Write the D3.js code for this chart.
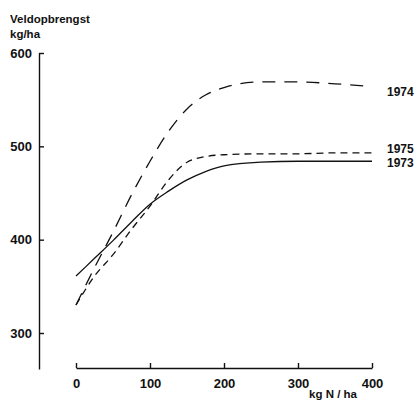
<!DOCTYPE html>
<html>
<head>
<meta charset="utf-8">
<script src="https://cdn.jsdelivr.net/npm/d3@7"></script>
<style>
  body { margin: 0; background: #fff; }
  text { font-family: "Liberation Sans", Arial, sans-serif; font-weight: bold; fill: #111; }
</style>
</head>
<body>
<script>
// nitrogen levels (kg N/ha) and yields (kg/ha)
const nitrogen = [0, 25, 50, 75, 100, 125, 150, 175, 200, 250, 300, 350, 400];
const yield1973 = [361, 380, 399, 419, 438, 452, 464, 473, 479, 483, 484, 484, 484];
const yield1974 = [330, 370, 408, 448, 484, 516, 540, 555, 563, 569, 569, 567, 564];
const yield1975 = [330, 361, 384, 411, 436, 464, 483, 489, 491, 492, 492, 493, 493];
const years = ['1973', '1974', '1975'];
const xTicks = [0, 100, 200, 300, 400];
const yTicks = [300, 400, 500, 600];

const width = 418, height = 402;

const svg = d3.select('body').append('svg')
  .attr('width', width)
  .attr('height', height);

// scales
const xscale = d3.scaleLinear().domain([0, 400]).range([76, 372]);
const yscale = d3.scaleLinear().domain([300, 600]).range([333, 53]);
// y axis line runs a bit below 300
const yAxisScale = yscale.copy().domain([yscale.invert(369), 600]).range([369, 53]);

// axes, ticks pointing inwards
const yaxis = d3.axisLeft(yAxisScale).tickValues(yTicks).tickSizeInner(-5).tickSizeOuter(0).tickPadding(7);
const xaxis = d3.axisBottom(xscale).tickValues(xTicks).tickSizeInner(-5).tickSizeOuter(0).tickPadding(11);

const g_yaxis = svg.append('g')
  .attr('transform', 'translate(39,0)')
  .call(yaxis);
const g_xaxis = svg.append('g')
  .attr('transform', 'translate(0,368)')
  .call(xaxis);

[g_xaxis, g_yaxis].forEach(ax => {
  ax.selectAll('path, line').attr('stroke', '#111').attr('stroke-width', 1.4);
  ax.selectAll('text').style('font-size', '13px').style('font-family', null);
});

// titles
svg.append('text').attr('x', 10).attr('y', 23).style('font-size', '11.5px').text('Veldopbrengst');
svg.append('text').attr('x', 10).attr('y', 38).style('font-size', '11.5px').text('kg/ha');
svg.append('text').attr('x', 333).attr('y', 398).attr('text-anchor', 'middle').style('font-size', '11.5px').text('kg N / ha');

// lines
const line = d3.line()
  .x((d, i) => xscale(nitrogen[i]))
  .y(d => yscale(d))
  .curve(d3.curveMonotoneX);

const series = [
  {year: '1973', values: yield1973, dash: null, labelY: 163},
  {year: '1974', values: yield1974, dash: '13,9', labelY: 92},
  {year: '1975', values: yield1975, dash: '7,5', labelY: 149}
];

svg.selectAll('path.curve').data(series).join('path')
  .attr('class', 'curve')
  .attr('d', d => line(d.values))
  .attr('fill', 'none')
  .attr('stroke', '#111')
  .attr('stroke-width', 1.3)
  .attr('stroke-dasharray', d => d.dash);

svg.selectAll('text.year').data(series).join('text')
  .attr('class', 'year')
  .attr('x', 387)
  .attr('y', d => d.labelY)
  .attr('dy', '0.35em')
  .style('font-size', '12px')
  .text(d => d.year);
</script>
</body>
</html>
